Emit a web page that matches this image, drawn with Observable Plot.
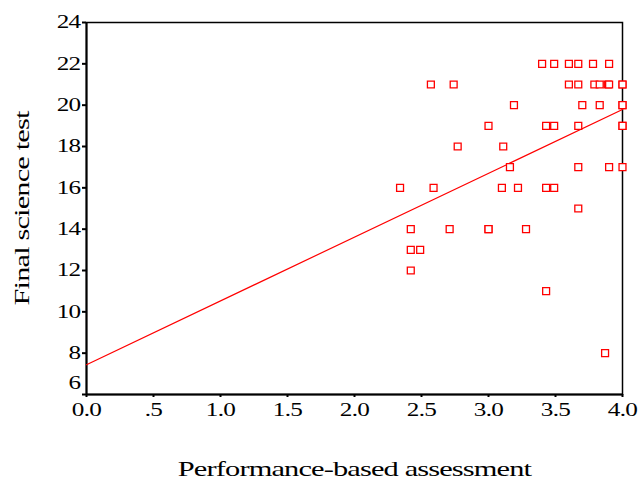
<!DOCTYPE html>
<html><head><meta charset="utf-8">
<script src="https://cdn.jsdelivr.net/npm/d3@7"></script>
<script src="https://cdn.jsdelivr.net/npm/@observablehq/plot@0.6"></script>
<style>
body{margin:0;background:#fff}
</style></head><body>
<div id="chart"></div>
<script>
const perf = [3.40,3.49,3.60,3.67,3.78,3.90,
  2.57,2.74,3.60,3.67,3.79,3.83,3.89,3.90,4.00,4.00,
  3.19,3.70,3.83,4.00,4.00,
  3.00,3.43,3.49,3.67,4.00,4.00,
  2.77,3.11,
  3.16,3.67,3.90,4.00,
  2.34,2.59,3.10,3.22,3.43,3.49,
  3.67,
  2.42,2.71,3.00,3.00,3.28,
  2.42,2.49,
  2.42,
  3.43,
  3.87];
const science = [22,22,22,22,22,22,
  21,21,21,21,21,21,21,21,21,21,
  20,20,20,20,20,
  19,19,19,19,19,19,
  18,18,
  17,17,17,17,
  16,16,16,16,16,16,
  15,
  14,14,14,14,14,
  13,13,
  12,
  11,
  8];
const fitX = [0, 4];
const fitY = [7.44, 19.79];
const xTicks = [0,0.5,1,1.5,2,2.5,3,3.5,4];
const xTickLabels = ["0.0",".5","1.0","1.5","2.0","2.5","3.0","3.5","4.0"];
const yTicks = [6,8,10,12,14,16,18,20,22,24];
const xTitle = "Performance-based assessment";
const yTitle = "Final science test";

const pts = perf.map((p,i)=>({p, s: science[i]}));
const fit = fitX.map((x,i)=>({x, y: fitY[i]}));
const yMin = yTicks[0];

const chart = Plot.plot({
  width: 640, height: 481,
  marginLeft: 86, marginRight: 18, marginTop: 22, marginBottom: 87,
  style: {fontFamily: "'Liberation Serif', serif", background: "#fff"},
  x: {domain:[0,4]},
  y: {domain:[6,24]},
  marks: [
    Plot.frame({stroke:"#000", strokeWidth:1.5}),
    Plot.axisX({ticks:xTicks, tickFormat:(d,i)=>xTickLabels[i], tickSize:3, tickPadding:6, label:null, fontSize:18, stroke:"#000", strokeWidth:2}),
    Plot.axisY({ticks:yTicks, tickFormat:d=>d===yMin?"":String(d), tickSize:4, tickPadding:2, label:null, fontSize:18, stroke:"#000", strokeWidth:2}),
    Plot.axisY({ticks:[yMin], tickFormat:d=>String(d), tickSize:4, tickPadding:2, label:null, fontSize:18, stroke:null, dy:-11}),
    Plot.ruleX([0], {strokeWidth:2}),
    Plot.ruleY([6], {strokeWidth:2}),
    Plot.line(fit, {x:"x", y:"y", stroke:"red", strokeWidth:1.2}),
    Plot.dot(pts, {x:"p", y:"s", symbol:"square", r:3.9, stroke:"red", strokeWidth:1.3, fill:"white"}),
    Plot.text([xTitle], {text:d=>d, frameAnchor:"bottom", dy:75, fontSize:21, lineAnchor:"middle", textAnchor:"middle", className:"ttl"}),
    Plot.text([yTitle], {text:d=>d, frameAnchor:"left", dx:-64, rotate:-90, fontSize:21, lineAnchor:"middle", textAnchor:"middle", className:"ttl"})
  ]
});
document.getElementById("chart").appendChild(chart);

// Widen glyphs horizontally like the reference's stretched Times rendering
function stretch(sel, s, ls){
  sel.forEach(t=>{
    const xa = t.getAttribute("x");
    const x = xa && !/em/.test(xa) ? +xa : 0;
    const tr = t.getAttribute("transform")||"";
    if (xa && !/em/.test(xa)) t.setAttribute("x",0);
    t.setAttribute("transform", `${tr} translate(${x},0) scale(${s},1)`);
    if (ls!=null) t.setAttribute("letter-spacing", ls);
  });
}
stretch(chart.querySelectorAll('g[aria-label="x-axis tick label"] text, g[aria-label="y-axis tick label"] text'), 1.4, -0.5);
stretch(chart.querySelectorAll('g.ttl text'), 1.45, -0.6);
</script>
</body></html>
